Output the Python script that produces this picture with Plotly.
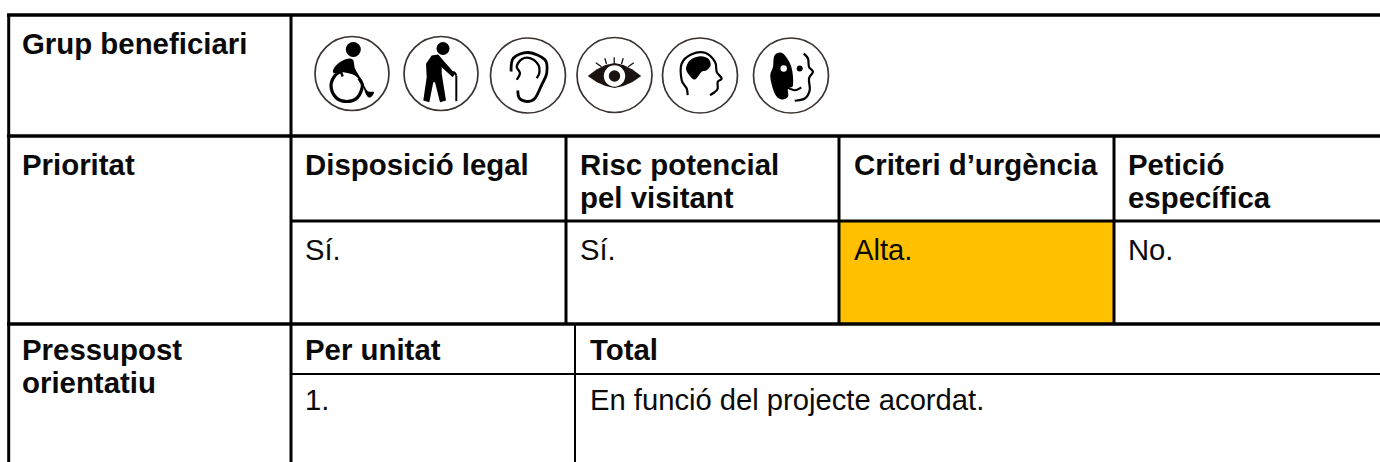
import plotly.graph_objects as go

# ---- table content ----
bold_texts = ["Grup beneficiari", "Prioritat", "Disposició legal", "Risc potencial", "pel visitant",
              "Criteri d’urgència", "Petició", "específica", "Pressupost", "orientatiu", "Per unitat", "Total"]
bold_x = [22, 22, 305, 580, 580, 854, 1128, 1128, 22, 22, 305, 590]
bold_y = [43, 164, 164, 164, 197, 164, 164, 197, 349, 382, 349, 349]
plain_texts = ["Sí.", "Sí.", "Alta.", "No.", "1.", "En funció del projecte acordat."]
plain_x = [305, 580, 854, 1128, 305, 590]
plain_y = [250, 250, 250, 250, 400, 400]

# ---- layout of the grid ----
h_lines = [(15, 7, 1380, 3.5), (136, 7, 1380, 3.5), (221, 291, 1380, 3), (324, 7, 1380, 3.5), (374, 291, 1380, 2.2)]
v_lines = [(8.7, 14, 462, 3), (291, 14, 462, 3), (566, 136, 324, 3), (839, 136, 324, 3),
           (1114, 136, 324, 3), (575, 324, 462, 2)]
highlight = (839, 221, 1114, 324)
HIGHLIGHT_COLOR = "#FFC000"
INK = "#000000"
RING = "#3a3330"
FS_BOLD = 29.4
FS_PLAIN = 29.2

shapes = []


def smooth(points, closed=False):
    n = len(points)
    def p(i):
        return points[i % n] if closed else points[max(0, min(n - 1, i))]
    d = f"M{points[0][0]:.2f},{points[0][1]:.2f}"
    for i in range(n if closed else n - 1):
        p0, p1, p2, p3 = p(i - 1), p(i), p(i + 1), p(i + 2)
        c1 = (p1[0] + (p2[0] - p0[0]) / 6, p1[1] + (p2[1] - p0[1]) / 6)
        c2 = (p2[0] - (p3[0] - p1[0]) / 6, p2[1] - (p3[1] - p1[1]) / 6)
        d += f" C{c1[0]:.2f},{c1[1]:.2f} {c2[0]:.2f},{c2[1]:.2f} {p2[0]:.2f},{p2[1]:.2f}"
    return d + (" Z" if closed else "")


def shift(cx, cy, pts):
    return [(cx + a, cy + b) for a, b in pts]


def blob(cx, cy, pts, color=INK):
    shapes.append(dict(type="path", path=smooth(shift(cx, cy, pts), True), fillcolor=color,
                       line=dict(width=0), layer="above"))


def poly(cx, cy, pts, color=INK):
    q = shift(cx, cy, pts)
    d = "M" + " L".join(f"{a:.2f},{b:.2f}" for a, b in q) + " Z"
    shapes.append(dict(type="path", path=d, fillcolor=color, line=dict(width=0), layer="above"))


def stroke(cx, cy, pts, w=1.6, color=INK):
    shapes.append(dict(type="path", path=smooth(shift(cx, cy, pts)), line=dict(width=w, color=color),
                       layer="above"))


def disc(cx, cy, r, color=INK):
    shapes.append(dict(type="circle", x0=cx - r, x1=cx + r, y0=cy - r, y1=cy + r,
                       fillcolor=color, line=dict(width=0), layer="above"))


# background cell and grid
shapes.append(dict(type="rect", x0=highlight[0], x1=highlight[2], y0=highlight[1], y1=highlight[3],
                   fillcolor=HIGHLIGHT_COLOR, line=dict(width=0), layer="below"))
for y, x0, x1, w in h_lines:
    shapes.append(dict(type="line", x0=x0, x1=x1, y0=y, y1=y, line=dict(color=INK, width=w)))
for x, y0, y1, w in v_lines:
    shapes.append(dict(type="line", x0=x, x1=x, y0=y0, y1=y1, line=dict(color=INK, width=w)))

# rings
ring_cx = [352, 441, 528, 614.5, 700, 791]
ring_cy = [73.5, 73.5, 75.5, 75, 75.5, 75.5]
ring_r = [37, 37, 37.5, 37.5, 37.5, 37.5]
for cx, cy, r in zip(ring_cx, ring_cy, ring_r):
    shapes.append(dict(type="circle", x0=cx - r, x1=cx + r, y0=cy - r, y1=cy + r,
                       line=dict(color=RING, width=1.7), layer="above"))

# wheelchair
cx, cy = ring_cx[0], ring_cy[0]
disc(cx + 1.3, cy - 24, 7.5)
stroke(cx, cy, [(-10, -2.6), (-17, 2), (-21, 12.4), (-16, 24), (-5.3, 28), (5.5, 24), (10.4, 12.4), (7, 5)], 3.2)
stroke(cx, cy, [(-18.7, -1.3), (-12, -2.3), (-9.3, 3)], 2.4)
blob(cx, cy, [(-16, -8), (-7, -14), (0.7, -14), (3, -5), (8, 3.7), (13, 13.7), (16.3, 18), (22, 18.7),
              (18.7, 23.7), (14.7, 22), (9.7, 10.3), (3, 2), (-8.7, -1.3), (-18.7, -1.3)])

# walking person
cx, cy = ring_cx[1], ring_cy[1]
disc(cx + 2, cy - 25, 6.5)
poly(cx, cy, [(-9.3, -18), (-2.7, -19), (2.3, -13), (14, 0.3), (11.7, 3.7), (0.7, -6.3), (0.7, 0.3), (5, 27),
              (-1, 28.7), (-6, 8.7), (-7.7, 8.7), (-11.7, 28.7), (-17.7, 27), (-14.3, 3.7), (-15, -9.7)])
stroke(cx, cy, [(8.3, -0.3), (13, -1.3), (15.3, 2)], 2)
stroke(cx, cy, [(15.3, 2), (15.3, 27.7)], 2)

# ear
cx, cy = ring_cx[2], ring_cy[2]
stroke(cx, cy, [(-17, -4), (-14.7, -17.3), (0.3, -23), (17, -15.7), (18.7, -2.3), (13.7, 9.3), (7, 22.7),
                (-1.3, 26), (-8.7, 22.7), (-10.3, 15)], 2.8)
stroke(cx, cy, [(-11.3, 4.3), (-8, -2.3), (-11.3, -9), (-6.3, -16.3), (2, -17.3), (10.3, -10.7), (11.3, -2.3),
                (8.7, 2.7)], 2.3)

# eye
cx, cy = ring_cx[3], ring_cy[3]
poly(cx, cy, [(-26.7, 1), (-18, -5.5), (-9, -10), (0, -12), (9, -10), (18, -5.5), (26.7, 1), (18, 7), (9, 11),
              (0, 13), (-9, 11), (-18, 7)], "#1a1311")
disc(cx, cy + 1, 10.7, "#ffffff")
disc(cx, cy + 1, 5.7, "#1a1311")
for a, b in [((-18.7, -12.3), (-13, -8.3)), ((-9.7, -16.7), (-8, -11)), ((-0.3, -17.7), (-0.3, -11.7)),
             ((8.7, -16.7), (7, -11)), ((19.3, -12.3), (13.7, -8.3))]:
    shapes.append(dict(type="line", x0=cx + a[0], y0=cy + a[1], x1=cx + b[0], y1=cy + b[1],
                       line=dict(color="#1a1311", width=1.3), layer="above"))

# head
cx, cy = ring_cx[4], ring_cy[4]
stroke(cx, cy, [(-12.3, 19.7), (-13.3, 13), (-18.3, 4.7), (-18.3, -12), (-8.3, -21.3), (5, -22.7), (15, -13.7),
                (16.7, -3.7), (21.7, 3), (17.7, 6.3), (17.7, 13), (15, 16.3), (10, 19.7)], 2.2)
blob(cx, cy, [(-14, -7), (-10, -15.3), (0, -19.3), (8.3, -17), (10.7, -10.3), (6.7, -5.3), (1.7, -3.7), (-5, 4),
              (-10.7, -0.3)])

# two faces
cx, cy = ring_cx[5], ring_cy[5]
blob(cx, cy, [(-16.3, -20.3), (-8, -22), (0.3, -8.7), (2, 9.7), (-3, 13), (-3, 21.3), (-9.7, 24), (-16.3, 18),
              (-20.7, 1.3), (-18, -8.7)])
disc(cx - 7.3, cy - 7, 3.2, "#ffffff")
disc(cx + 8.7, cy - 7, 3)
stroke(cx, cy, [(12.7, -22), (17, -17), (18, -8.7), (22, -3.7), (18, 3), (18.7, 14.7), (13.7, 23), (3.7, 25.3)], 2.2)
stroke(cx, cy, [(-5.3, 11.3), (3.7, 14.7), (10.3, 12)], 2)

annotations = []
for texts, xs, ys, bold in ((bold_texts, bold_x, bold_y, True), (plain_texts, plain_x, plain_y, False)):
    for t, x, y in zip(texts, xs, ys):
        annotations.append(dict(x=x, y=y, text=f"<b>{t}</b>" if bold else t, xref="x", yref="y", showarrow=False,
                                xanchor="left", yanchor="middle", borderpad=0, borderwidth=0,
                                font=dict(family="Liberation Sans", size=FS_BOLD if bold else FS_PLAIN,
                                          color="#0a0a0a")))

fig = go.Figure()
fig.update_layout(width=1380, height=462, margin=dict(l=0, r=0, t=0, b=0), paper_bgcolor="white",
                  plot_bgcolor="white", showlegend=False, shapes=shapes, annotations=annotations,
                  xaxis=dict(range=[0, 1380], visible=False, fixedrange=True),
                  yaxis=dict(range=[462, 0], visible=False, fixedrange=True))
fig.write_html("out.html", config=dict(displayModeBar=False),
               post_script="document.body.style.margin='0';")
